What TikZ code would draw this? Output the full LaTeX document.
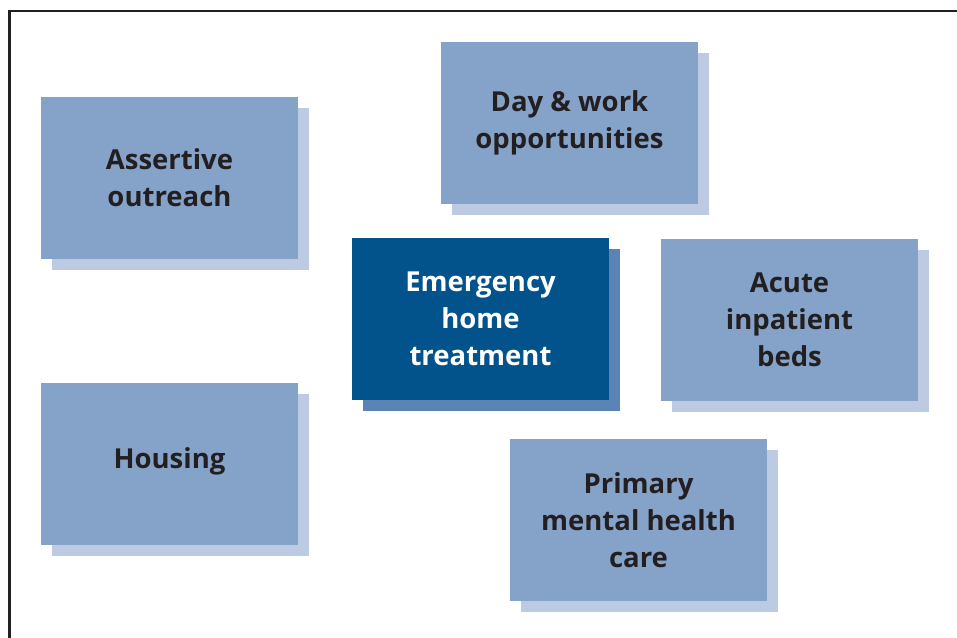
\documentclass[tikz,border=0pt]{standalone}
\usepackage{fontspec}
\setmainfont{Open Sans}
\usetikzlibrary{shadows}
\definecolor{boxblue}{HTML}{85A3C9}
\definecolor{boxshade}{HTML}{BCCBE2}
\definecolor{hotblue}{HTML}{02528C}
\definecolor{hotshade}{HTML}{5A84B5}
\definecolor{inkgrey}{HTML}{231F20}
\tikzset{
  card/.style={minimum width=257pt, minimum height=162pt, inner sep=0pt, align=center,
    font=\bfseries\fontsize{27.5}{37}\selectfont},
  service/.style={card, fill=boxblue, text=inkgrey,
    drop shadow={shadow xshift=11pt, shadow yshift=-11pt, fill=boxshade, opacity=1}},
  core/.style={card, fill=hotblue, text=white,
    drop shadow={shadow xshift=11pt, shadow yshift=-11pt, fill=hotshade, opacity=1}},
  frame/.style={draw=inkgrey, line width=2.4pt}
}
\begin{document}
\begin{tikzpicture}[x=1pt, y=-1pt]
	\useasboundingbox (0,0) rectangle (957,637);
	\draw[frame] (9.5,640) |- (960,11);
	% services round the centre
	\node[service] (outreach)  at (169.5,177.5) {Assertive\\outreach};
	\node[service] (daywork)   at (569.5,122.5) {Day \& work\\opportunities};
	\node[core]    (emergency) at (480.5,318.5) {Emergency\\home\\treatment};
	\node[service] (acute)     at (789.5,319.5) {Acute\\inpatient\\beds};
	\node[service] (housing)   at (169.5,464)   {\raisebox{12pt}{Housing}};
	\node[service] (primary)   at (638.5,520)   {Primary\\mental health\\care};
\end{tikzpicture}
\end{document}
